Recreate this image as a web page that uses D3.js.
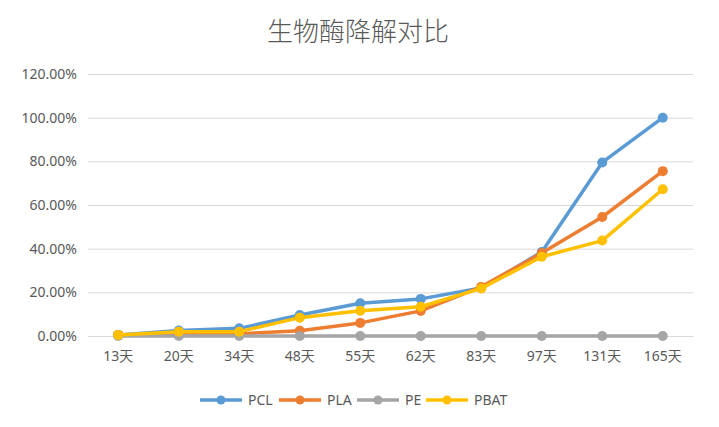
<!DOCTYPE html>
<html><head><meta charset="utf-8">
<script src="https://cdn.jsdelivr.net/npm/d3@7"></script>
<style>body{margin:0;background:#fff;}svg{display:block;}</style>
</head><body><svg id="c" width="719" height="427"></svg>
<script>
const categories = ["13天","20天","34天","48天","55天","62天","83天","97天","131天","165天"];
const seriesNames = ["PCL","PLA","PE","PBAT"];
const PCL  = [0.5, 2.5, 3.5, 9.6, 15.0, 17.0, 22.0, 38.5, 79.5, 100.0];
const PLA  = [0.5, 1.0, 1.0, 2.4, 6.0, 11.5, 22.5, 38.0, 54.5, 75.5];
const PE   = [0, 0, 0, 0, 0, 0, 0, 0, 0, 0];
const PBAT = [0.5, 2.0, 2.0, 8.4, 11.6, 13.4, 21.8, 36.3, 43.7, 67.2];
const yTicks = [0, 20, 40, 60, 80, 100, 120];
const colors = ["#5B9BD5","#ED7D31","#A5A5A5","#FFC000"];
const seriesData = [PCL, PLA, PE, PBAT];

const svg = d3.select("#c");
const cjk = "'Noto Sans CJK SC','Noto Sans',sans-serif";
const font = "'Noto Sans','Noto Sans CJK SC',sans-serif";
const m = {l:88, r:26, t:74, b:91};
const W = 719, H = 427;
const x = d3.scaleBand().domain(categories).range([m.l, W-m.r]);
const y = d3.scaleLinear().domain([0,120]).range([H-m.b, m.t]);

svg.append("text").attr("x", 358).attr("y", 41).attr("text-anchor","middle")
  .attr("font-family", cjk).attr("font-size", 26).attr("font-weight",300).attr("fill","#595959").text("生物酶降解对比");

const yAxis = d3.axisLeft(y).tickValues(yTicks).tickSize(-(W-m.l-m.r)).tickFormat(d => d.toFixed(2)+"%");
const gy = svg.append("g").attr("transform",`translate(${m.l},0)`).call(yAxis);
gy.select(".domain").remove();
gy.selectAll(".tick line").attr("stroke","#D9D9D9").attr("stroke-width",1);
gy.selectAll(".tick text").attr("x",-11).attr("font-family",font).attr("font-size",14).attr("fill","#595959");

const xAxis = d3.axisBottom(x).tickSize(0);
const gx = svg.append("g").attr("transform",`translate(0,${H-m.b})`).call(xAxis);
gx.select(".domain").attr("stroke","#D9D9D9");
gx.selectAll(".tick text").attr("dy",22).attr("font-family",font).attr("font-size",14).attr("fill","#595959");

const line = d3.line().x((d,i)=>x(categories[i])+x.bandwidth()/2).y(d=>y(d));
seriesData.forEach((s,k)=>{
  svg.append("path").datum(s).attr("d",line).attr("fill","none")
    .attr("stroke",colors[k]).attr("stroke-width",3.5).attr("stroke-linejoin","round");
  svg.selectAll(null).data(s).enter().append("circle")
    .attr("cx",(d,i)=>x(categories[i])+x.bandwidth()/2).attr("cy",d=>y(d)).attr("r",5)
    .attr("fill",colors[k]);
});

const legX = [200, 279, 357, 426];
const lg = svg.append("g");
seriesNames.forEach((n,k)=>{
  const g = lg.append("g").attr("transform",`translate(${legX[k]},400)`);
  g.append("line").attr("x1",0).attr("x2",42).attr("stroke",colors[k]).attr("stroke-width",3.5);
  g.append("circle").attr("cx",21).attr("r",4.5).attr("fill",colors[k]);
  g.append("text").attr("x",48).attr("y",5).attr("font-family",font).attr("font-size",14)
    .attr("fill","#595959").text(n);
});
</script></body></html>
